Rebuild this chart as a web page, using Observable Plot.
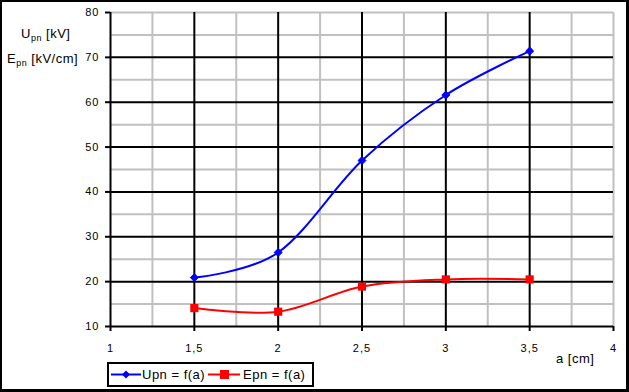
<!DOCTYPE html>
<html>
<head>
<meta charset="utf-8">
<script src="https://cdn.jsdelivr.net/npm/d3@7"></script>
<script src="https://cdn.jsdelivr.net/npm/@observablehq/plot@0.6"></script>
<style>
  html, body { margin: 0; padding: 0; background: #fff; }
  #wrap { position: relative; width: 629px; height: 392px; overflow: hidden; }
  #wrap > svg { position: absolute; left: 0; top: 0; }
  #frame { position: absolute; left: 0; top: 0; width: 629px; height: 392px; box-sizing: border-box;
           border-left: 2px solid #000; border-top: 2px solid #000; border-right: 3px solid #000; border-bottom: 3px solid #000; pointer-events: none; }
</style>
</head>
<body>
<div id="wrap"></div>
<script>
// ---- data ----
const aValues = [1.5, 2, 2.5, 3, 3.5];
const upnValues = [20.9, 26.5, 47.0, 61.6, 71.4];
const epnValues = [14.1, 13.3, 18.9, 20.5, 20.5];
const seriesNames = ["Upn = f(a)", "Epn = f(a)"];
const xTicks = [1, 1.5, 2, 2.5, 3, 3.5, 4];
const yTicks = [10, 20, 30, 40, 50, 60, 70, 80];
const xMinor = [1.25, 1.75, 2.25, 2.75, 3.25, 3.75, 4];
const yMinor = [15, 25, 35, 45, 55, 65, 75, 80];
const xMajor = [1.5, 2, 2.5, 3, 3.5];
const yMajor = [20, 30, 40, 50, 60, 70];

const upn = aValues.map((a, i) => ({a, v: upnValues[i]}));
const epn = aValues.map((a, i) => ({a, v: epnValues[i]}));
const fmt = d => String(d).replace(".", ",");

const chart = Plot.plot({
  width: 629,
  height: 392,
  marginLeft: 110,
  marginRight: 16,
  marginTop: 12,
  marginBottom: 66,
  x: {domain: [1, 4]},
  y: {domain: [10, 80]},
  style: {fontFamily: "'Liberation Sans', Arial, sans-serif", fontSize: "11px", letterSpacing: "1px", background: "transparent", overflow: "visible", color: "#000"},
  marks: [
    Plot.ruleX(xMinor, {stroke: "#c0c0c0", strokeWidth: 2}),
    Plot.ruleY(yMinor, {stroke: "#c0c0c0", strokeWidth: 2}),
    Plot.ruleX(xMajor, {stroke: "#000", strokeWidth: 2}),
    Plot.ruleY(yMajor, {stroke: "#000", strokeWidth: 2}),
    Plot.ruleX([1], {stroke: "#000", strokeWidth: 2}),
    Plot.ruleY([10], {stroke: "#000", strokeWidth: 2}),
    Plot.axisX({ticks: xTicks, tickFormat: fmt, tickSize: 5, tickPadding: 13, strokeWidth: 2, label: null}),
    Plot.axisY({ticks: yTicks, tickSize: 5, tickPadding: 6, strokeWidth: 2, label: null}),
    Plot.line(upn, {x: "a", y: "v", stroke: "#0000ff", strokeWidth: 2, curve: "cardinal"}),
    Plot.line(epn, {x: "a", y: "v", stroke: "#ff0000", strokeWidth: 2, curve: "cardinal"}),
    Plot.dot(upn, {x: "a", y: "v", symbol: "diamond2", r: 3.6, fill: "#0000ff", stroke: "#0000ff", strokeWidth: 1}),
    Plot.dot(epn, {x: "a", y: "v", symbol: "square", r: 4.6, fill: "#ff0000", stroke: "none"})
  ]
});

const wrap = document.getElementById("wrap");
wrap.appendChild(chart);

// overlay: axis titles and legend
const ns = "http://www.w3.org/2000/svg";
const ov = d3.select(wrap).append("svg")
  .attr("width", 629).attr("height", 392)
  .style("font-family", "'Liberation Sans', Arial, sans-serif")
  .style("font-size", "13px")
  .style("letter-spacing", "0.5px");

function subLabel(x, y, main, sub, rest) {
  const t = ov.append("text").attr("x", x).attr("y", y).attr("fill", "#000");
  t.append("tspan").text(main);
  t.append("tspan").attr("font-size", "9px").attr("dy", 3).text(sub);
  t.append("tspan").attr("dy", -3).text(rest);
}
subLabel(21, 38, "U", "pn", " [kV]");
subLabel(7, 63, "E", "pn", " [kV/cm]");
ov.append("text").attr("x", 556).attr("y", 363).text("a [cm]");

// legend
const lg = ov.append("g");
lg.append("rect").attr("x", 108).attr("y", 363).attr("width", 205).attr("height", 23)
  .attr("fill", "#fff").attr("stroke", "#000").attr("stroke-width", 2);
const ly = 374.5;
lg.append("line").attr("x1", 111).attr("x2", 141).attr("y1", ly).attr("y2", ly).attr("stroke", "#0000ff").attr("stroke-width", 2);
lg.append("path").attr("d", d3.symbol(d3.symbolDiamond2, 40)()).attr("transform", `translate(126,${ly})`).attr("fill", "#0000ff");
lg.append("text").attr("x", 142).attr("y", 379).text(seriesNames[0]);
lg.append("line").attr("x1", 208).attr("x2", 240).attr("y1", ly).attr("y2", ly).attr("stroke", "#ff0000").attr("stroke-width", 2);
lg.append("rect").attr("x", 220).attr("y", ly - 4.5).attr("width", 9).attr("height", 9).attr("fill", "#ff0000");
lg.append("text").attr("x", 243).attr("y", 379).text(seriesNames[1]);

const fr = document.createElement("div");
fr.id = "frame";
wrap.appendChild(fr);
</script>
</body>
</html>
